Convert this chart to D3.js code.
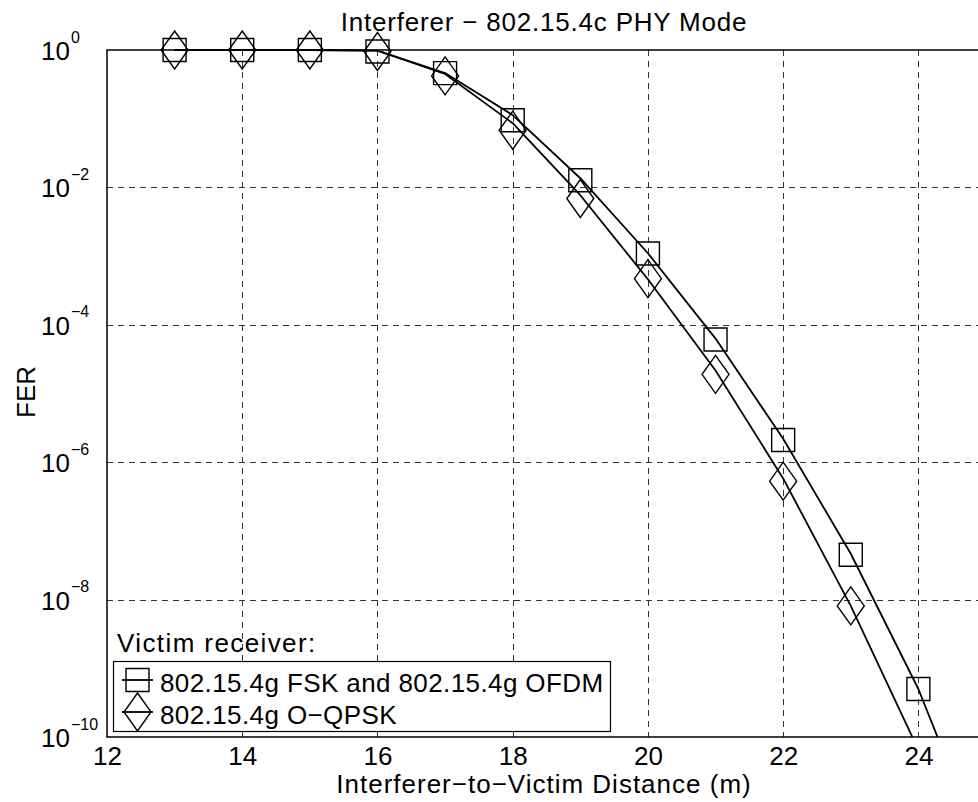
<!DOCTYPE html>
<html><head><meta charset="utf-8">
<script src="https://cdn.jsdelivr.net/npm/d3@7"></script>
<style>
body{margin:0;background:#fff}
svg{display:block}
text{font-family:"Liberation Sans",Arial,sans-serif;fill:#000}
</style>
</head><body>
<svg id="c" width="978" height="802"></svg>
<script>
// ---- data ----
const xTicks = [12, 14, 16, 18, 20, 22, 24];
const yTickExps = [0, -2, -4, -6, -8, -10];
const markerX = [13, 14, 15, 16, 17, 18, 19, 20, 21, 22, 23, 24];
const fskMarkers  = [1, 1, 1, 0.95, 0.46, 0.095, 0.0127, 1.09e-3, 6.1e-5, 2.1e-6, 4.5e-8, 5.0e-10];
const qpskMarkers = [1, 1, 1, 0.95, 0.42, 0.068, 0.0069, 4.7e-4, 1.9e-5, 5.3e-7, 8.1e-9, null];
const fitX = [13, 14, 15, 16, 17, 18, 19, 20, 21, 22, 23, 24, 25];
const fskFit  = [1, 1, 1, 0.98, 0.462, 0.113, 0.0136, 1.1e-3, 6.3e-5, 2.2e-6, 4.65e-8, 5.0e-10, 1.7e-12];
const qpskFit = [1, 1, 1, 0.98, 0.447, 0.086, 7.7e-3, 4.6e-4, 2.16e-5, 5.8e-7, 8.1e-9, 6.5e-11, null];
const seriesNames = ["802.15.4g FSK and 802.15.4g OFDM", "802.15.4g O\u2212QPSK"];
const titleText = "Interferer \u2212 802.15.4c PHY Mode";
const xLabel = "Interferer\u2212to\u2212Victim Distance (m)";
const yLabel = "FER";
const legendTitle = "Victim receiver:";

// ---- layout ----
const L = 107, R = 986, T = 50, B = 737;
const FS = 26;
const svg = d3.select("#c");
const x = d3.scaleLinear().domain([12, 25]).range([L, R]);
const y = d3.scaleLog().domain([1e-10, 1]).range([B, T]);

svg.append("defs").append("clipPath").attr("id", "clip")
  .append("rect").attr("x", L).attr("y", 0).attr("width", R - L).attr("height", B);

// grid
const grid = svg.append("g").attr("stroke", "#333").attr("stroke-width", 1)
  .attr("stroke-dasharray", "6,5").attr("fill", "none");
xTicks.filter(t => t > 12).forEach(t => {
  grid.append("line").attr("x1", Math.round(x(t)) + 0.5).attr("x2", Math.round(x(t)) + 0.5)
    .attr("y1", T).attr("y2", B);
});
yTickExps.filter(e => e < 0 && e > -10).forEach(e => {
  grid.append("line").attr("y1", Math.round(y(Math.pow(10, e))) + 0.5).attr("y2", Math.round(y(Math.pow(10, e))) + 0.5)
    .attr("x1", L).attr("x2", R);
});

// axes
const xAxis = d3.axisBottom(x).tickValues(xTicks).tickSize(0).tickPadding(8).tickFormat(d3.format("d"));
const gx = svg.append("g").attr("transform", `translate(0,${B})`).call(xAxis);
gx.select(".domain").remove();
gx.selectAll("text").attr("font-size", FS).attr("dy", null).attr("y", 28)
  .style("font-family", '"Liberation Sans",Arial,sans-serif');

const yAxis = d3.axisLeft(y).tickValues(yTickExps.map(e => Math.pow(10, e))).tickSize(0).tickFormat("");
const gy = svg.append("g").attr("transform", `translate(${L},0)`).call(yAxis);
gy.select(".domain").remove();
gy.selectAll(".tick").each(function(d) {
  const e = Math.round(Math.log10(d));
  const g = d3.select(this);
  g.select("text").remove();
  g.append("text").attr("x", 70 - L).attr("y", 9.5).attr("text-anchor", "end")
    .attr("font-size", FS).text("10");
  g.append("text").attr("x", 71 - L).attr("y", -8).attr("text-anchor", "start")
    .attr("font-size", 16).text(e === 0 ? "0" : "\u2212" + Math.abs(e));
});

// box
svg.append("path").attr("d", `M${R},${T}H${L}V${B}H${R}`).attr("fill", "none")
  .attr("stroke", "#000").attr("stroke-width", 1.5);

// fit lines
const line = d3.line().defined(d => d[1] != null).x(d => x(d[0])).y(d => y(d[1]));
const lines = svg.append("g").attr("clip-path", "url(#clip)").attr("fill", "none")
  .attr("stroke", "#000").attr("stroke-width", 1.8).attr("stroke-linejoin", "round");
lines.append("path").attr("d", line(fitX.map((v, i) => [v, fskFit[i]])));
lines.append("path").attr("d", line(fitX.map((v, i) => [v, qpskFit[i]])));

// markers
const SQ = 23, DW = 13.5, DH = 19;
const sqPath = s => `M${-s/2},${-s/2}h${s}v${s}h${-s}Z`;
const diaPath = `M0,${-DH}L${DW},0L0,${DH}L${-DW},0Z`;
const mk = svg.append("g").attr("fill", "none").attr("stroke", "#000").attr("stroke-width", 1.4);
markerX.forEach((v, i) => {
  if (fskMarkers[i] != null)
    mk.append("path").attr("d", sqPath(SQ)).attr("transform", `translate(${x(v)},${y(fskMarkers[i])})`);
  if (qpskMarkers[i] != null)
    mk.append("path").attr("d", diaPath).attr("transform", `translate(${x(v)},${y(qpskMarkers[i])})`);
});

// title & labels
svg.append("text").attr("x", 544).attr("y", 31).attr("text-anchor", "middle").attr("font-size", FS)
  .attr("letter-spacing", 0.8).text(titleText);
svg.append("text").attr("x", 544).attr("y", 793).attr("text-anchor", "middle").attr("font-size", FS)
  .attr("letter-spacing", 1.0).text(xLabel);
svg.append("text").attr("transform", "translate(35,392) rotate(-90)").attr("text-anchor", "middle")
  .attr("font-size", FS).text(yLabel);

// legend
svg.append("text").attr("x", 117).attr("y", 652).attr("font-size", FS).attr("letter-spacing", 1.4).text(legendTitle);
const lg = svg.append("g");
lg.append("rect").attr("x", 113.5).attr("y", 661.5).attr("width", 497).attr("height", 70)
  .attr("fill", "#fff").attr("stroke", "#000").attr("stroke-width", 1.2);
const rows = [680, 712];
[0, 1].forEach(i => {
  const cy = rows[i];
  lg.append("line").attr("x1", 122).attr("x2", 153).attr("y1", cy).attr("y2", cy)
    .attr("stroke", "#000").attr("stroke-width", 1.8);
  lg.append("path").attr("d", i === 0 ? sqPath(SQ) : diaPath)
    .attr("transform", `translate(137.5,${cy})`).attr("fill", "none").attr("stroke", "#000").attr("stroke-width", 1.4);
  lg.append("text").attr("x", 160).attr("y", cy + 11.5).attr("font-size", FS).attr("letter-spacing", 0.4)
    .text(seriesNames[i]);
});
</script>
</body></html>
